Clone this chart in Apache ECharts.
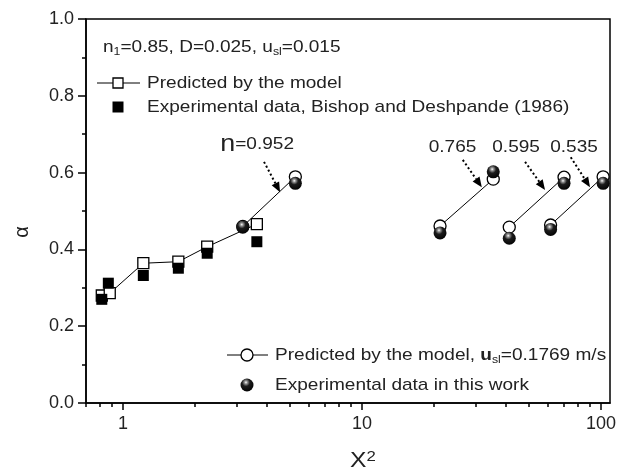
<!DOCTYPE html>
<html><head><meta charset="utf-8">
<script src="https://cdn.jsdelivr.net/npm/echarts@6/dist/echarts.min.js"></script>
<style>html,body{margin:0;padding:0;background:#fff}#c{width:628px;height:474px}</style>
</head><body><div id="c"></div>
<script>
// ---- data ----
const modelSqX = [0.815, 0.88, 1.216, 1.704, 2.25, 3.63];
const modelSqY = [0.28, 0.286, 0.364, 0.368, 0.407, 0.466];
const bishopX = [0.815, 0.868, 1.216, 1.704, 2.25, 3.63];
const bishopY = [0.27, 0.312, 0.332, 0.351, 0.390, 0.420];
const pairLabels = ['0.952', '0.765', '0.595', '0.535'];
const pairX = [[3.17, 5.26], [21.2, 35.4], [41.3, 70], [61.5, 102]];
const modelCircY = [[0.46, 0.589], [0.461, 0.583], [0.458, 0.588], [0.4635, 0.589]];
const expCircY = [[0.458, 0.572], [0.443, 0.602], [0.429, 0.572], [0.452, 0.572]];
const yTicks = [0, 0.2, 0.4, 0.6, 0.8, 1.0];
const xTicks = [1, 10, 100];
const xMinorTicks = [0.7, 0.8, 0.9, 2, 3, 4, 5, 6, 7, 8, 9, 20, 30, 40, 50, 60, 70, 80, 90];
// annotation arrows (data coords)
const arrowStart = [[3.89, 0.628], [26.4, 0.633], [48.1, 0.628], [74.7, 0.640]];
const arrowTip = [[4.54, 0.549], [31.7, 0.562], [58.3, 0.555], [89.9, 0.562]];
const labelPos = [[3.64, 0.674], [23.9, 0.667], [44.1, 0.667], [77.1, 0.667]];

const FONT = "'Liberation Sans', Arial, sans-serif";
const SX = 1.12;
const sphere = {type: 'radial', x: 0.42, y: 0.3, r: 0.75, colorStops: [
  {offset: 0, color: '#ffffff'}, {offset: 0.14, color: '#9a9a9a'},
  {offset: 0.4, color: '#1c1c1c'}, {offset: 1, color: '#000'}]};

const series = [];
series.push({type: 'line', data: modelSqX.map((x, i) => [x, modelSqY[i]]),
  symbol: 'rect', symbolSize: 11, z: 2,
  itemStyle: {color: '#fff', borderColor: '#000', borderWidth: 1.3},
  lineStyle: {color: '#000', width: 1}});
series.push({type: 'scatter', data: bishopX.map((x, i) => [x, bishopY[i]]),
  symbol: 'rect', symbolSize: 11, z: 3, itemStyle: {color: '#000', opacity: 1}});
pairX.forEach((px, k) => {
  series.push({type: 'line', data: px.map((x, i) => [x, modelCircY[k][i]]),
    symbol: 'circle', symbolSize: 12, z: 2,
    itemStyle: {color: '#fff', borderColor: '#000', borderWidth: 1.3},
    lineStyle: {color: '#000', width: 1}});
});
const expData = [];
pairX.forEach((px, k) => px.forEach((x, i) => expData.push([x, expCircY[k][i]])));
series.push({type: 'scatter', data: expData, symbol: 'circle', symbolSize: 13, z: 4,
  itemStyle: {color: sphere, opacity: 1}});

const chart = echarts.init(document.getElementById('c'), null, {renderer: 'canvas'});
const option = {
  animation: false,
  grid: {left: 86, right: 18, top: 19, bottom: 71, show: true, borderColor: '#000', borderWidth: 1.5},
  xAxis: [{
    type: 'log', logBase: 10, min: 0.7, max: 109, position: 'bottom',
    axisLine: {lineStyle: {color: '#000', width: 1.5}},
    axisTick: {customValues: xTicks, length: 7, lineStyle: {color: '#000', width: 1.5}},
    axisLabel: {customValues: xTicks, formatter: v => String(v), color: '#222', fontSize: 18, fontFamily: FONT, margin: 12},
    splitLine: {show: false}
  }, {
    type: 'log', logBase: 10, min: 0.7, max: 109, position: 'bottom',
    axisLine: {show: false},
    axisTick: {customValues: xMinorTicks, length: 4, lineStyle: {color: '#000', width: 1.5}},
    axisLabel: {show: false}, splitLine: {show: false}
  }],
  yAxis: {
    type: 'value', min: 0, max: 1, interval: 0.2,
    axisLine: {lineStyle: {color: '#000', width: 1.5}},
    axisTick: {length: 8, lineStyle: {color: '#000', width: 1.5}},
    minorTick: {show: true, splitNumber: 2, length: 4, lineStyle: {color: '#000', width: 1.5}},
    axisLabel: {formatter: v => v.toFixed(1), color: '#222', fontSize: 18, fontFamily: FONT, margin: 12},
    splitLine: {show: false}
  },
  series: series
};
chart.setOption(option);

const toPx = p => chart.convertToPixel({xAxisIndex: 0, yAxisIndex: 0}, p);
const g = [];
arrowStart.forEach((s, i) => {
  const a = toPx(s), b = toPx(arrowTip[i]);
  const dx = b[0] - a[0], dy = b[1] - a[1], L = Math.hypot(dx, dy), ux = dx / L, uy = dy / L;
  const hl = 10, hw = 4.2;
  const bx = b[0] - ux * hl, by = b[1] - uy * hl;
  g.push({type: 'line', z: 10, shape: {x1: a[0], y1: a[1], x2: bx, y2: by},
    style: {stroke: '#000', lineWidth: 2, lineDash: [2, 2.5]}});
  g.push({type: 'polygon', z: 10, shape: {points: [[b[0], b[1]], [bx - uy * hw, by + ux * hw], [bx + uy * hw, by - ux * hw]]},
    style: {fill: '#000'}});
  const l = toPx(labelPos[i]);
  const txt = i === 0 ? '{big|n}{t|=' + pairLabels[i] + '}' : '{t|' + pairLabels[i] + '}';
  g.push({type: 'text', z: 10, x: l[0], y: l[1], scaleX: SX,
    style: {text: txt, align: 'center', verticalAlign: 'middle',
      rich: {big: {fontSize: 24, fontFamily: FONT, fill: '#222'}, t: {fontSize: 17, fontFamily: FONT, fill: '#222'}}}});
});
const richBase = {
  t: {fontSize: 17, fontFamily: FONT, fill: '#222', lineHeight: 20},
  b: {fontSize: 17, fontFamily: FONT, fill: '#222', lineHeight: 20, fontWeight: 'bold'},
  sub: {fontSize: 11, fontFamily: FONT, fill: '#222', lineHeight: 11, verticalAlign: 'bottom'}
};
function legText(x, y, text) {
  return {type: 'text', z: 10, x: x, y: y, scaleX: SX,
    style: {text: text, align: 'left', verticalAlign: 'middle', rich: richBase}};
}
// top-left legend
g.push(legText(103, 47, '{t|n}{sub|1}{t|=0.85, D=0.025, u}{sub|sl}{t|=0.015}'));
g.push({type: 'line', z: 10, shape: {x1: 97, y1: 83, x2: 140, y2: 83}, style: {stroke: '#000', lineWidth: 1}});
g.push({type: 'rect', z: 11, shape: {x: 113, y: 78, width: 10, height: 10}, style: {fill: '#fff', stroke: '#000', lineWidth: 1.3}});
g.push(legText(147, 83, '{t|Predicted by the model}'));
g.push({type: 'rect', z: 11, shape: {x: 112.5, y: 101.5, width: 11, height: 11}, style: {fill: '#000'}});
g.push(legText(147, 107, '{t|Experimental data, Bishop and Deshpande (1986)}'));
// bottom-right legend
g.push({type: 'line', z: 10, shape: {x1: 227, y1: 355, x2: 268, y2: 355}, style: {stroke: '#000', lineWidth: 1}});
g.push({type: 'circle', z: 11, shape: {cx: 247, cy: 355, r: 6}, style: {fill: '#fff', stroke: '#000', lineWidth: 1.3}});
g.push(legText(275, 355, '{t|Predicted by the model, }{b|u}{sub|sl}{t|=0.1769 m/s}'));
g.push({type: 'circle', z: 11, shape: {cx: 247, cy: 385, r: 6.5}, style: {fill: sphere}});
g.push(legText(275, 385, '{t|Experimental data in this work}'));
// axis titles
g.push({type: 'text', z: 10, x: 22, y: 232, rotation: Math.PI / 2,
  style: {text: 'α', align: 'center', verticalAlign: 'middle', fontSize: 20, fontFamily: FONT, fill: '#222'}});
g.push({type: 'text', z: 10, x: 363, y: 461, scaleX: SX,
  style: {text: '{a|X}{s|2}', align: 'center', verticalAlign: 'middle',
    rich: {a: {fontSize: 22, fontFamily: FONT, fill: '#222', lineHeight: 24}, s: {fontSize: 15, fontFamily: FONT, fill: '#222', verticalAlign: 'top', lineHeight: 15}}}});
chart.setOption({graphic: {elements: g}});
</script></body></html>
